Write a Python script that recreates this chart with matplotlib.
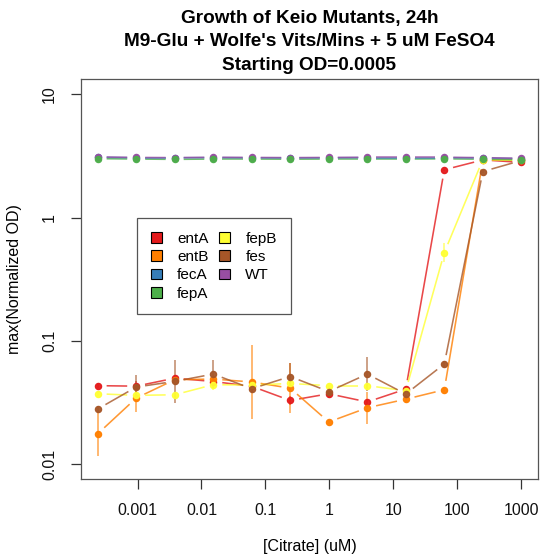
import numpy as np
from matplotlib import pyplot as plt
from matplotlib.patches import Patch

plt.rcParams['font.family'] = ['Liberation Sans', 'DejaVu Sans']

# citrate dilution series (uM), 4-fold steps
citrate = [0.000238, 0.000954, 0.00381, 0.0153, 0.061, 0.244,
           0.977, 3.91, 15.6, 62.5, 250, 1000]

# max normalized OD per strain
entA = [0.0435, 0.0431, 0.050, 0.047, 0.043, 0.033,
        0.0374, 0.0321, 0.0408, 2.44, 2.93, 2.80]
entB = [0.0177, 0.0345, 0.0486, 0.0492, 0.0466, 0.0415,
        0.0221, 0.0288, 0.0338, 0.0403, 2.90, 2.90]
fecA = [3.08, 3.05, 3.05, 3.06, 3.05, 3.04, 3.05, 3.06, 3.06, 3.06, 3.04, 3.00]
fepA = [3.00, 2.98, 2.96, 2.98, 2.98, 2.97, 2.98, 2.98, 2.98, 2.99, 2.97, 2.94]
fepB = [0.0374, 0.0363, 0.0367, 0.0443, 0.0440, 0.0453,
        0.0435, 0.0435, 0.0396, 0.521, 2.95, 2.90]
fes = [0.0281, 0.0424, 0.0471, 0.054, 0.0411, 0.0516,
       0.039, 0.054, 0.0372, 0.0652, 2.36, 2.90]
WT = [3.10, 3.07, 3.06, 3.08, 3.07, 3.06, 3.07, 3.08, 3.08, 3.08, 3.06, 3.02]

# geometric sd (fold change) for the error bars
entA_fold = [1.05, 1.1, 1.05, 1.06, 1.05, 1.08, 1.08, 1.05, 1.05, 1.02, 1.02, 1.02]
entB_fold = [1.5, 1.3, 1.08, 1.06, 2.0, 1.59, 1.03, 1.35, 1.08, 1.04, 1.02, 1.02]
fecA_fold = [1.01] * 12
fepA_fold = [1.01] * 12
fepB_fold = [1.04, 1.04, 1.04, 1.1, 1.04, 1.05, 1.06, 1.04, 1.06, 1.19, 1.02, 1.02]
fes_fold = [1.05, 1.24, 1.5, 1.3, 1.06, 1.28, 1.05, 1.38, 1.06, 1.06, 1.02, 1.02]
WT_fold = [1.01] * 12

strains = ['entA', 'entB', 'fecA', 'fepA', 'fepB', 'fes', 'WT']
values = [entA, entB, fecA, fepA, fepB, fes, WT]
folds = [entA_fold, entB_fold, fecA_fold, fepA_fold, fepB_fold, fes_fold, WT_fold]
colors = ['#E41A1C', '#FF7F00', '#377EB8', '#4DAF4A', '#FFFF33', '#A65628', '#984EA3']
line_z = [2, 2, 2.2, 2.1, 2, 2, 2.2]
point_z = [3, 3, 3, 3.3, 3, 3, 3.1]

W, H = 540, 558
fig = plt.figure(figsize=(W / 100, H / 100), dpi=100)
L, R, T, B = 80.7, 538.3, 79.3, 479.3
ax = fig.add_axes([L / W, 1 - B / H, (R - L) / W, (B - T) / H])
ax.set_xscale('log')
ax.set_yscale('log')
ax.set_xlim(10 ** -3.888, 10 ** 3.265)
ax.set_ylim(10 ** -2.12, 10 ** 1.12)


def gapped_line(ax, x, y, gap, **kw):
    """type='b' style: segments stop short of each point"""
    pts = ax.transData.transform(np.column_stack([x, y]))
    inv = ax.transData.inverted()
    for p0, p1 in zip(pts[:-1], pts[1:]):
        d = p1 - p0
        n = np.hypot(*d)
        if n <= 2 * gap:
            continue
        u = d / n
        seg = inv.transform([p0 + u * gap, p1 - u * gap])
        ax.plot(seg[:, 0], seg[:, 1], **kw)


for name, y, f, c, lz, pz in zip(strains, values, folds, colors, line_z, point_z):
    y = np.array(y)
    f = np.array(f)
    ax.vlines(citrate, y / f, y * f, colors=c, lw=1.2, alpha=0.65, zorder=2)
    gapped_line(ax, citrate, y, 9, color=c, lw=1.15, alpha=0.8, zorder=lz,
                solid_capstyle='butt')
    ax.plot(citrate, y, ls='none', marker='o', ms=4.4, mfc=c, mec=c,
            alpha=0.95, zorder=pz)

ax.minorticks_off()
ax.set_xticks([0.001, 0.01, 0.1, 1, 10, 100, 1000])
ax.set_xticklabels(['0.001', '0.01', '0.1', '1', '10', '100', '1000'])
ax.set_yticks([0.01, 0.1, 1, 10])
ax.set_yticklabels(['0.01', '0.1', '1', '10'], rotation=90, va='center')
ax.tick_params(axis='both', length=7, width=0.9, color='#333333',
               labelsize=11.5, pad=10, labelcolor='#111111')
for s in ax.spines.values():
    s.set_color('#555555')
    s.set_linewidth(0.9)

ax.set_xlabel('[Citrate] (uM)', fontsize=11.5, va='center')
ax.xaxis.set_label_coords(0.5, (B - 547) / (B - T))
ax.set_ylabel('max(Normalized OD)', fontsize=11.5, va='center')
ax.yaxis.set_label_coords((15 - L) / (R - L), 0.5)

titles = ['Growth of Keio Mutants, 24h',
          "M9-Glu + Wolfe's Vits/Mins + 5 uM FeSO4",
          'Starting OD=0.0005']
for i, t in enumerate(titles):
    fig.text((L + R) / 2 / W, 1 - (18 + 23.5 * i) / H, t, ha='center',
             va='center', fontsize=13.7, fontweight='bold')

handles = [Patch(facecolor=c, edgecolor='black', lw=0.8) for c in colors]
leg = ax.legend(handles, strains, ncol=2, loc='upper left',
                bbox_to_anchor=((137 - L) / (R - L), (B - 218) / (B - T)),
                fontsize=11, frameon=True, fancybox=False, framealpha=1,
                edgecolor='#555555', borderpad=0.9, labelspacing=0.28,
                handlelength=0.72, handleheight=0.7, handletextpad=1.0,
                columnspacing=0.7, borderaxespad=0)
leg.get_frame().set_linewidth(0.9)

fig.savefig('out.png', dpi=100)
